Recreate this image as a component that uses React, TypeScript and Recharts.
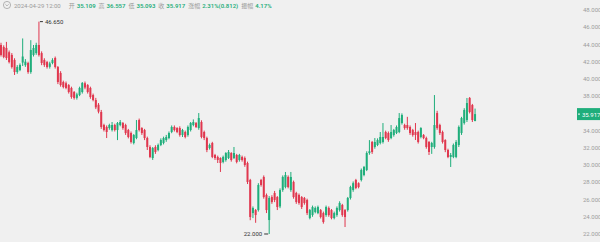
import { Bar, ComposedChart, ReferenceLine, XAxis, YAxis } from "recharts";

// OHLC per candle left to right
const opens = [
  43.94, 43.7, 43.6, 43.1, 42.78, 42.2, 40.8, 41.04, 41.9, 41.6,
  41.85, 40.8, 42.78, 43.0, 43.94, 43.0, 42.2, 41.96, 41.4, 41.85,
  42.43, 41.38, 40.69, 39.64, 39.5, 39.29, 38.95, 38.48, 37.8, 38.13,
  38.48, 39.5, 39.29, 38.95, 38.13, 37.55, 37.0, 36.16, 34.65, 34.42,
  34.3, 34.07, 34.65, 34.07, 34.65, 34.88, 34.65, 34.07, 33.72, 32.56,
  33.14, 35.23, 34.3, 34.07, 33.14, 32.1, 30.82, 32.1, 31.75, 32.33,
  32.56, 32.91, 33.14, 33.84, 34.42, 34.3, 34.3, 33.49, 33.84, 33.49,
  34.07, 34.65, 34.88, 34.3, 35.0, 33.84, 33.14, 31.98, 32.56, 31.17,
  30.94, 30.82, 30.36, 30.59, 30.82, 31.4, 30.82, 31.17, 30.59, 30.94,
  30.82, 30.24, 28.27, 24.43, 24.78, 24.78, 28.27, 28.62, 26.53, 23.62,
  26.29, 26.76, 26.29, 25.2, 27.11, 27.45, 28.62, 27.11, 28.04, 26.76,
  26.53, 26.29, 26.18, 25.95, 23.85, 24.2, 24.55, 24.43, 24.78, 24.43,
  24.2, 25.02, 24.78, 23.85, 24.2, 24.78, 25.37, 24.78, 24.78, 26.18,
  27.11, 28.27, 27.9, 28.27, 28.85, 29.43, 31.4, 32.68, 32.1, 32.33,
  32.56, 32.68, 33.84, 33.72, 33.14, 33.49, 33.72, 33.84, 34.88, 34.65,
  34.65, 34.42, 34.07, 33.84, 33.84, 33.26, 33.49, 33.14, 32.68, 32.1,
  32.1, 36.04, 34.65, 33.84, 32.91, 31.75, 30.94, 30.94, 30.94, 32.33,
  33.72, 34.88, 35.23, 37.79, 36.97, 35.109,
];
const highs = [
  44.2, 43.9, 44.3, 43.3, 43.0, 42.4, 41.6, 41.8, 44.7, 42.3,
  42.0, 44.5, 43.94, 44.2, 46.65, 43.2, 42.4, 42.1, 42.0, 42.4,
  42.6, 41.5, 40.9, 39.8, 39.7, 39.4, 39.1, 38.6, 38.4, 39.1,
  39.64, 39.7, 39.4, 39.1, 38.3, 37.8, 37.2, 36.4, 34.8, 34.6,
  34.8, 35.0, 34.8, 35.0, 35.23, 35.0, 34.8, 34.2, 33.9, 33.6,
  35.23, 35.4, 34.4, 34.2, 33.3, 32.3, 32.1, 32.3, 32.5, 33.1,
  33.3, 33.5, 33.9, 34.6, 34.6, 34.4, 34.5, 34.2, 34.0, 34.6,
  35.0, 35.3, 35.0, 36.04, 35.2, 34.0, 33.3, 32.5, 32.7, 31.3,
  31.1, 30.9, 31.1, 31.5, 31.75, 31.5, 32.1, 31.3, 31.3, 31.1,
  31.0, 30.4, 28.4, 25.2, 24.9, 27.9, 28.4, 28.8, 26.7, 26.4,
  26.5, 27.0, 26.4, 27.3, 28.8, 29.2, 28.8, 29.2, 28.2, 26.9,
  26.7, 26.4, 26.3, 26.1, 24.9, 25.3, 25.2, 25.3, 24.9, 24.6,
  25.3, 25.2, 24.9, 24.6, 25.2, 25.8, 25.5, 24.9, 26.3, 27.6,
  28.1, 28.4, 28.0, 29.6, 29.9, 31.6, 32.9, 32.8, 33.14, 33.1,
  33.84, 34.88, 34.0, 33.9, 34.65, 34.2, 34.6, 36.04, 36.0, 34.8,
  35.6, 34.6, 34.2, 34.88, 34.0, 34.4, 33.6, 33.3, 32.8, 32.7,
  38.13, 36.3, 34.8, 34.0, 33.0, 31.9, 31.4, 32.5, 32.9, 34.6,
  35.6, 36.6, 37.79, 37.9, 37.1, 36.557,
];
const lows = [
  42.6, 42.4, 42.2, 41.8, 41.2, 40.46, 40.6, 40.9, 41.5, 41.4,
  40.6, 40.6, 42.6, 42.8, 42.6, 41.6, 41.4, 41.2, 41.2, 41.7,
  41.2, 39.4, 39.1, 38.9, 38.8, 38.3, 37.7, 37.6, 37.6, 38.0,
  38.3, 38.8, 38.3, 37.7, 37.4, 36.5, 36.0, 34.2, 33.9, 33.14,
  34.1, 33.9, 33.9, 32.9, 34.5, 34.1, 33.5, 33.1, 32.5, 32.4,
  33.0, 33.9, 33.5, 32.9, 31.75, 30.8, 30.6, 31.3, 31.6, 32.2,
  32.4, 32.7, 33.0, 33.7, 33.9, 33.7, 33.3, 33.26, 33.1, 33.3,
  33.9, 34.5, 34.3, 34.1, 33.1, 32.9, 31.5, 31.8, 30.8, 30.6,
  30.24, 29.2, 30.2, 30.4, 30.7, 30.4, 30.7, 30.2, 30.4, 30.4,
  29.8, 27.8, 23.6, 23.85, 23.3, 24.6, 27.5, 26.1, 24.43, 22.0,
  25.5, 25.7, 24.78, 25.0, 26.9, 27.3, 27.3, 26.9, 26.1, 25.5,
  25.4, 24.9, 25.4, 24.2, 23.7, 24.0, 24.4, 24.3, 23.8, 23.2,
  24.0, 24.0, 23.7, 23.7, 24.0, 24.6, 24.0, 22.81, 24.6, 26.0,
  26.9, 27.2, 27.3, 28.1, 28.7, 29.3, 31.2, 31.3, 31.9, 32.2,
  32.4, 32.5, 33.0, 32.7, 33.0, 33.3, 33.6, 33.7, 34.7, 34.1,
  34.1, 33.5, 33.3, 32.91, 32.5, 33.1, 33.0, 31.9, 31.17, 31.3,
  31.9, 34.1, 33.5, 32.5, 31.5, 30.8, 29.78, 30.8, 30.8, 32.1,
  33.5, 34.7, 35.0, 36.0, 35.0, 35.093,
];
const closes = [
  42.78, 42.55, 42.43, 41.96, 41.38, 40.8, 41.38, 41.62, 42.6, 42.0,
  40.8, 43.36, 43.59, 43.94, 42.78, 41.85, 41.62, 41.38, 41.8, 42.2,
  41.38, 39.64, 39.29, 39.06, 38.95, 38.48, 37.9, 37.79, 38.2, 38.95,
  39.53, 39.0, 38.48, 37.9, 37.55, 36.7, 36.2, 34.42, 34.07, 33.84,
  34.65, 34.65, 34.07, 34.88, 35.0, 34.3, 33.72, 33.26, 32.68, 33.49,
  34.07, 34.07, 33.72, 33.14, 32.1, 30.94, 31.98, 31.52, 32.33, 32.91,
  33.14, 33.26, 33.72, 34.42, 34.07, 33.84, 33.49, 34.07, 33.26, 34.42,
  34.88, 35.0, 34.42, 35.46, 33.26, 33.14, 31.75, 32.33, 30.94, 30.82,
  30.59, 30.24, 30.94, 31.4, 31.52, 30.59, 31.4, 30.36, 31.17, 30.59,
  30.01, 28.04, 23.97, 25.02, 24.2, 27.69, 27.69, 26.29, 24.78, 26.18,
  25.71, 25.95, 25.13, 27.1, 28.62, 28.85, 27.45, 28.62, 26.29, 25.71,
  25.6, 25.13, 25.6, 24.43, 24.78, 25.13, 25.02, 25.13, 23.97, 23.39,
  25.13, 24.2, 23.85, 24.43, 25.02, 25.6, 24.2, 23.97, 26.18, 27.45,
  27.9, 27.34, 27.45, 29.43, 29.78, 31.4, 31.6, 31.52, 32.68, 32.91,
  33.26, 33.26, 33.14, 32.91, 33.84, 34.07, 34.42, 35.46, 35.81, 34.3,
  34.3, 33.72, 33.49, 33.49, 32.68, 34.3, 33.14, 32.1, 31.52, 32.56,
  34.65, 34.3, 33.72, 32.68, 31.75, 30.94, 31.17, 32.33, 32.68, 34.42,
  35.46, 36.39, 37.2, 36.16, 35.23, 35.917,
];
const emptySlots = 37;

const yTicks = [22, 24, 26, 28, 30, 32, 34, 38, 40, 42, 44, 46, 48];
const headerTime = "2024-04-29 12:00";
const headerLabels = ["开", "高", "低", "收", "涨幅", "振幅"];
const headerValues = ["35.109", "36.557", "35.093", "35.917", "2.31%(0.812)", "4.17%"];

const UP = "#1fae7b";
const DOWN = "#e0374e";

const maxHigh = Math.max(...highs);
const minLow = Math.min(...lows);
const lastClose = closes[closes.length - 1];

const data = [
  ...opens.map((o, i) => ({ i, open: o, high: highs[i], low: lows[i], close: closes[i] })),
  ...Array.from({ length: emptySlots }, (_, k) => ({ i: opens.length + k })),
];

function Candle(props: any) {
  const { x, y, width, height, payload } = props;
  if (payload == null || payload.open == null || !height) return null;
  const { open, high, low, close } = payload;
  const ppu = height / (high - low);
  const py = (v: number) => y + (high - v) * ppu;
  const color = close >= open ? UP : DOWN;
  const cx = x + width / 2;
  const top = py(Math.max(open, close));
  const bot = py(Math.min(open, close));
  return (
    <g>
      <rect x={cx - 0.5} y={y} width={1} height={height} fill={color} />
      <rect x={x} y={top} width={width} height={Math.max(bot - top, 1)} fill={color} />
      {high === maxHigh && (
        <g>
          <line x1={cx + 1} x2={cx + 4} y1={y} y2={y} stroke="#333" strokeWidth={1} />
          <text x={cx + 6} y={y} dominantBaseline="central" fontSize={6} fill="#333">
            {high.toFixed(3)}
          </text>
        </g>
      )}
      {low === minLow && (
        <g>
          <line x1={cx - 5} x2={cx - 1} y1={y + height} y2={y + height} stroke="#333" strokeWidth={1} />
          <text x={cx - 7} y={y + height} dominantBaseline="central" textAnchor="end" fontSize={6} fill="#333">
            {low.toFixed(3)}
          </text>
        </g>
      )}
    </g>
  );
}

function PriceTag(props: any) {
  const { viewBox } = props;
  const x = viewBox.x + viewBox.width;
  const y = viewBox.y;
  return (
    <g>
      <rect x={x} y={y - 6} width={23} height={12} fill={UP} />
      <line x1={x + 1} x2={x + 3} y1={y} y2={y} stroke="#fff" strokeWidth={1} />
      <text x={x + 5} y={y} dominantBaseline="central" fontSize={6} fill="#fff">
        {lastClose.toFixed(3)}
      </text>
    </g>
  );
}

export default function App() {
  return (
    <div
      style={{
        position: "relative",
        width: 600,
        height: 242,
        background: "#f0f0f0",
        fontFamily: 'Roboto, "Noto Sans CJK SC", sans-serif',
      }}
    >
      <style>{`body{margin:0}`}</style>
      <ComposedChart
        width={600}
        height={242}
        data={data}
        margin={{ top: 0, right: 0, bottom: 0, left: 0 }}
        barCategoryGap={0}
      >
        <XAxis dataKey="i" hide />
        <YAxis
          orientation="right"
          width={23}
          domain={[21.071, 49.161]}
          allowDataOverflow
          ticks={yTicks}
          interval={0}
          axisLine={false}
          tickLine={false}
          tickSize={4}
          tickMargin={2}
          tickFormatter={(v: number) => v.toFixed(3)}
          tick={{ fontSize: 6, fill: "#9c9c9c" }}
        />
        <Bar
          dataKey={(d: any) => (d.open == null ? null : [d.low, d.high])}
          barSize={2}
          shape={(p: any) => <Candle {...p} />}
          isAnimationActive={false}
        />
        <ReferenceLine y={lastClose} stroke="none" label={(p: any) => <PriceTag {...p} />} />
      </ComposedChart>
      <div
        style={{
          position: "absolute",
          left: 0,
          top: 0,
          height: 10,
          display: "flex",
          alignItems: "center",
          fontSize: 6,
          color: "#9a9a9a",
          whiteSpace: "nowrap",
        }}
      >
        <svg width={14} height={10} style={{ flex: "none" }}>
          <circle cx={7} cy={5} r={3.6} fill="none" stroke="#9a9a9a" strokeWidth={0.7} />
          <polyline points="5.4,4.3 7,5.9 8.6,4.3" fill="none" stroke="#9a9a9a" strokeWidth={0.7} />
        </svg>
        <span style={{ marginRight: 8 }}>{headerTime}</span>
        {headerLabels.map((label, k) => (
          <span key={label} style={{ marginRight: 3 }}>
            {label}
            <span style={{ marginLeft: 2, color: UP, fontWeight: 600 }}>{headerValues[k]}</span>
          </span>
        ))}
      </div>
    </div>
  );
}
